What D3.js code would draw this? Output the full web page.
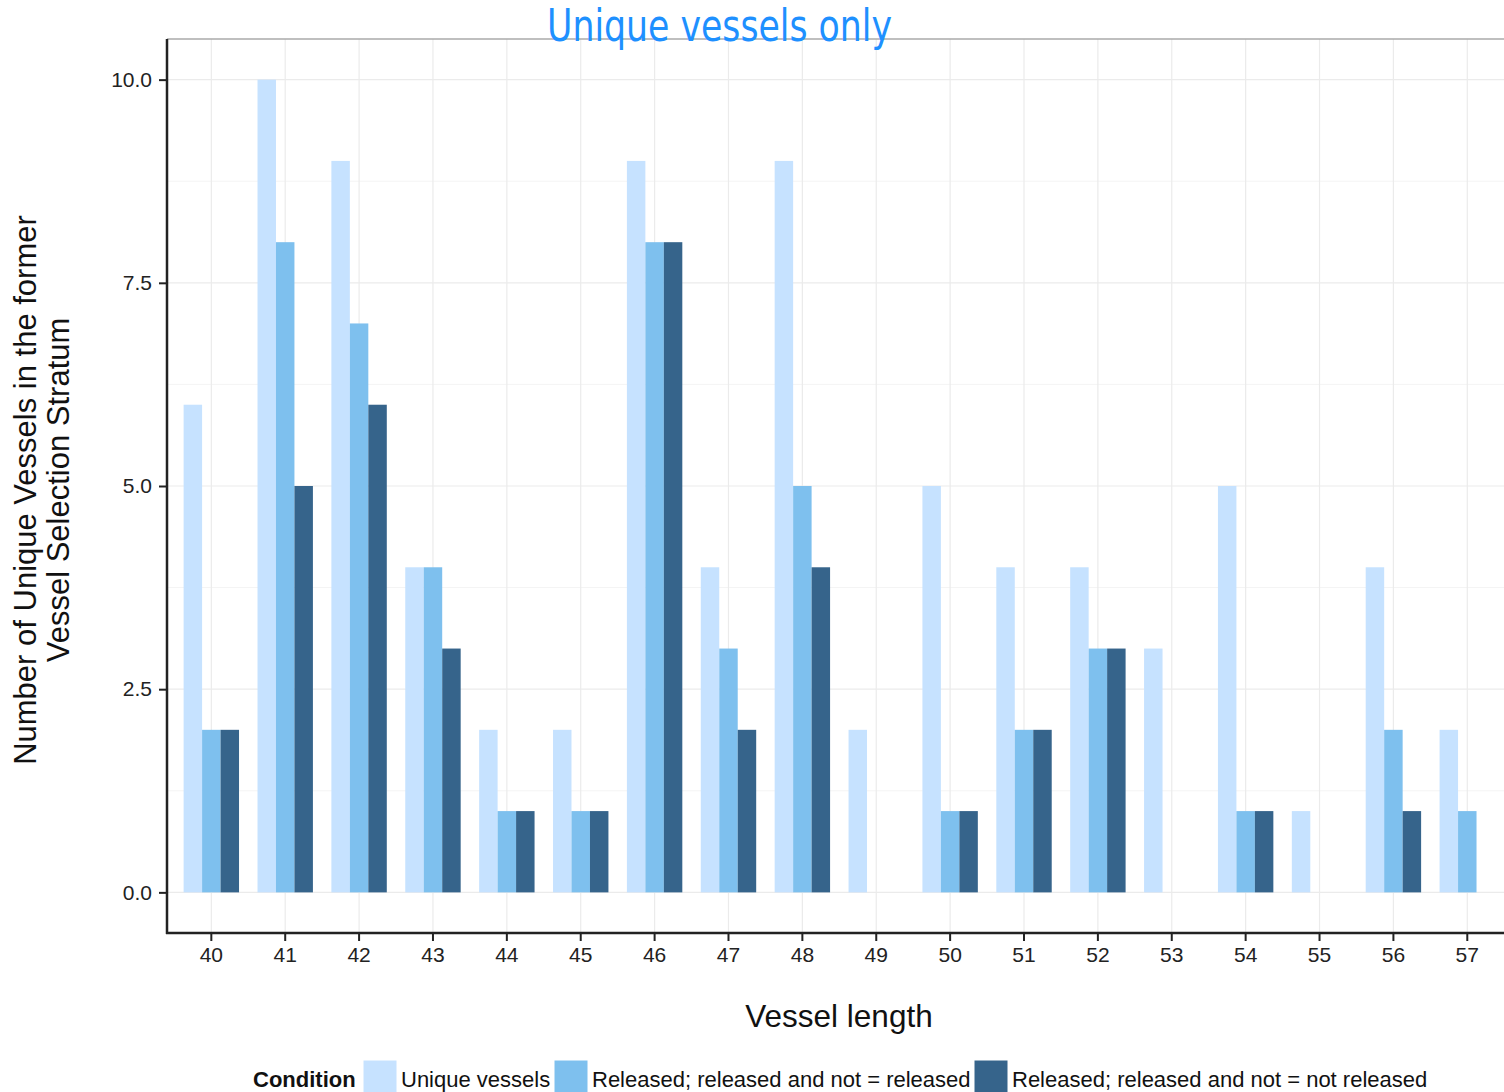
<!DOCTYPE html>
<html><head><meta charset="utf-8">
<script src="https://cdn.jsdelivr.net/npm/d3@7"></script>
<style>body{margin:0;background:#fff}svg{display:block}</style>
</head><body><svg id="c" width="1504" height="1092"></svg>
<script>
const lengths = ["40","41","42","43","44","45","46","47","48","49","50","51","52","53","54","55","56","57"];
const seriesNames = ["Unique vessels","Released; released and not = released","Released; released and not = not released"];
const uniqueVessels = [6,10,9,4,2,2,9,4,9,2,5,4,4,3,5,1,4,2];
const releasedAll = [2,8,7,4,1,1,8,3,5,0,1,2,3,0,1,0,2,1];
const releasedNot = [2,5,6,3,1,1,8,2,4,0,1,2,3,0,1,0,1,0];
const yTicks = [0,2.5,5,7.5,10];
const colors = ["#C6E2FF","#7EC0EE","#36648B"];
const series = [uniqueVessels, releasedAll, releasedNot];

const svg = d3.select("#c");
const L = 167, T = 39, B = 933;
const step = 73.88;
const x = d3.scaleBand().domain(lengths)
  .range([L + 0.6*step - step/2, L + 0.6*step - step/2 + step*lengths.length]).paddingInner(0).paddingOuter(0);
const y = d3.scaleLinear().domain([-0.5,10.5]).range([B,T]);
const bw = step*0.75;
const sub = d3.scaleBand().domain([0,1,2]).range([-bw/2, bw/2]);

const grid = svg.append("g");
[1.25,3.75,6.25,8.75].forEach(v=>grid.append("line").attr("x1",L).attr("x2",1504).attr("y1",y(v)).attr("y2",y(v)).attr("stroke","#f4f4f4").attr("stroke-width",1));
yTicks.forEach(v=>grid.append("line").attr("x1",L).attr("x2",1504).attr("y1",y(v)).attr("y2",y(v)).attr("stroke","#ebebeb").attr("stroke-width",1.2));
lengths.forEach(c=>{const cx=x(c)+x.bandwidth()/2;grid.append("line").attr("x1",cx).attr("x2",cx).attr("y1",T).attr("y2",B).attr("stroke","#ebebeb").attr("stroke-width",1.2);});
svg.append("line").attr("x1",L).attr("x2",1504).attr("y1",T).attr("y2",T).attr("stroke","#aaa").attr("stroke-width",1.5);

series.forEach((vals,si)=>{
  svg.append("g").selectAll("rect").data(vals).join("rect")
    .attr("x",(d,i)=>x(lengths[i])+x.bandwidth()/2+sub(si))
    .attr("width",sub.bandwidth())
    .attr("y",d=>y(d))
    .attr("height",d=>y(0)-y(d))
    .attr("fill",colors[si]);
});

const yAxis = svg.append("g").attr("transform",`translate(${L},0)`)
  .call(d3.axisLeft(y).tickValues(yTicks).tickFormat(d3.format(".1f")).tickSize(8).tickPadding(7));
const xAxis = svg.append("g").attr("transform",`translate(0,${B})`)
  .call(d3.axisBottom(x).tickSize(8).tickPadding(6));
[yAxis,xAxis].forEach(a=>{
  a.select(".domain").remove();
  a.selectAll(".tick line").attr("stroke","#222").attr("stroke-width",2);
  a.selectAll("text").attr("font-family","Liberation Sans, Arial, sans-serif").attr("font-size",21).attr("fill","#222");
});
svg.append("line").attr("x1",L).attr("x2",L).attr("y1",T).attr("y2",B+1).attr("stroke","#222").attr("stroke-width",2.5);
svg.append("line").attr("x1",L-1).attr("x2",1504).attr("y1",B).attr("y2",B).attr("stroke","#222").attr("stroke-width",2.5);

svg.append("text").attr("x",547).attr("y",41)
  .attr("font-family","Liberation Sans Narrow, DejaVu Sans Condensed, Liberation Sans, sans-serif")
  .attr("font-size",44).attr("fill","#1E90FF")
  .attr("textLength",345).attr("lengthAdjust","spacingAndGlyphs").text("Unique vessels only");

const yt = svg.append("text").attr("transform","translate(36,490) rotate(-90)").attr("text-anchor","middle")
  .attr("font-family","Liberation Sans, Arial, sans-serif").attr("font-size",31).attr("fill","#111");
yt.append("tspan").attr("x",0).attr("dy",0).text("Number of Unique Vessels in the former");
yt.append("tspan").attr("x",0).attr("dy",33).text("Vessel Selection Stratum");

svg.append("text").attr("x",839).attr("y",1027).attr("text-anchor","middle")
  .attr("font-family","Liberation Sans, Arial, sans-serif").attr("font-size",31.5).attr("fill","#111").text("Vessel length");

const lf = "Liberation Sans, Arial, sans-serif";
svg.append("text").attr("x",253).attr("y",1087).attr("font-family",lf).attr("font-weight","bold").attr("font-size",22).attr("fill","#111").text("Condition");
const keyX = [363,554,974];
seriesNames.forEach((n,i)=>{
  svg.append("rect").attr("x",keyX[i]).attr("y",1060).attr("width",34).attr("height",34).attr("fill",colors[i]).attr("stroke","#fff").attr("stroke-width",1);
  svg.append("text").attr("x",keyX[i]+38).attr("y",1087).attr("font-family",lf).attr("font-size",22).attr("fill","#111").text(n);
});
</script></body></html>
